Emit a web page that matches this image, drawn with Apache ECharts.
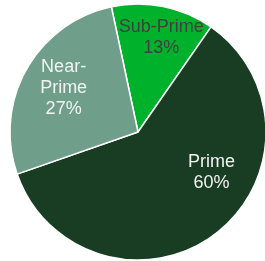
<!DOCTYPE html>
<html lang="en">
<head>
    <meta charset="UTF-8">
    <title>Pie</title>
    <script src="https://cdn.jsdelivr.net/npm/echarts@6/dist/echarts.min.js"></script>
    <style>body{margin:0;background:#fff}</style>
</head>
<body>
<div id="echarts" style="width: 265px;height:261px"></div>
<script>
    var categories = ['Sub-Prime', 'Prime', 'Near-Prime'];
    var labelText = ['Sub-Prime', 'Prime', 'Near-\nPrime'];
    var values = [13, 60, 27];
    var colors = ['#00b22b', '#193d23', '#6f9f8b'];
    var textColors = ['#404040', '#f2f2f2', '#f2f2f2'];
    // label nudges from the default inside spot
    var shifts = [[10, -29], [33, -13], [-16, -11]];

    var myChart = echarts.init(document.getElementById('echarts'));

    var option = {
        animation: false,
        series: [{
            type: 'pie',
            center: [138, 132],
            radius: 128,
            startAngle: 102,
            clockwise: true,
            itemStyle: {borderColor: '#fff', borderWidth: 1.5},
            label: {
                position: 'inside',
                fontFamily: 'Liberation Sans',
                fontSize: 18,
                lineHeight: 21,
                formatter: function (p) {
                    return labelText[p.dataIndex] + '\n' + p.value + '%';
                }
            },
            labelLayout: function (p) {
                return {dx: shifts[p.dataIndex][0], dy: shifts[p.dataIndex][1]};
            },
            data: categories.map(function (c, i) {
                return {
                    name: c,
                    value: values[i],
                    itemStyle: {color: colors[i]},
                    label: {color: textColors[i]}
                };
            })
        }]
    };

    myChart.setOption(option);
</script>
</body>
</html>
